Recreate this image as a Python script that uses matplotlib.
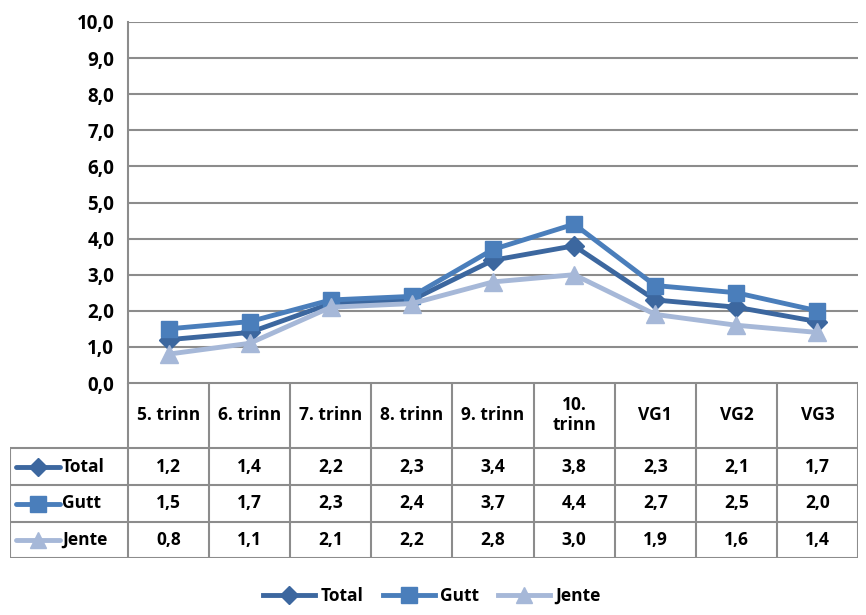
import matplotlib.pyplot as plt
from matplotlib.lines import Line2D

plt.rcParams['font.family'] = ['Open Sans', 'DejaVu Sans']
plt.rcParams['font.weight'] = 'bold'

categories = ["5. trinn", "6. trinn", "7. trinn", "8. trinn", "9. trinn",
              "10.\ntrinn", "VG1", "VG2", "VG3"]
total = [1.2, 1.4, 2.2, 2.3, 3.4, 3.8, 2.3, 2.1, 1.7]
gutt = [1.5, 1.7, 2.3, 2.4, 3.7, 4.4, 2.7, 2.5, 2.0]
jente = [0.8, 1.1, 2.1, 2.2, 2.8, 3.0, 1.9, 1.6, 1.4]
yticks = [0, 1, 2, 3, 4, 5, 6, 7, 8, 9, 10]

series = [
    ("Total", total, "#3C679F", "D", 10),
    ("Gutt", gutt, "#4A7EBB", "s", 12),
    ("Jente", jente, "#A6B8D8", "^", 13),
]

W, H = 866, 615
grid_c = "#8C8C8C"
fs = 12.5
fig = plt.figure(figsize=(W / 100, H / 100), dpi=100)

x0, x1, ytop, ybot, tbot = 128, 858, 22, 383, 558
ax = fig.add_axes([x0 / W, 1 - ybot / H, (x1 - x0) / W, (ybot - ytop) / H])
xs = list(range(len(categories)))
for name, vals, col, mk, ms in series:
    ax.plot(xs, vals, color=col, lw=3.5, marker=mk, ms=ms, label=name, zorder=3)
ax.set_xlim(-0.5, len(categories) - 0.5)
ax.set_ylim(0, 10)
ax.set_yticks(yticks)
ax.set_yticklabels([f"{v:.1f}".replace(".", ",") for v in yticks], fontsize=13.5, fontweight='bold')
ax.set_xticks([])
ax.tick_params(axis='y', length=0, pad=10)
for s in ["top", "right", "bottom"]:
    ax.spines[s].set_visible(False)
ax.spines["left"].set_color(grid_c)
ax.spines["left"].set_linewidth(1.5)
ax.grid(axis='y', color=grid_c, lw=1.5)
ax.set_axisbelow(True)

# data table below the plot
colw = (x1 - x0) / len(categories)
left = -0.5 - (x0 - 10) / colw
tab = fig.add_axes([10 / W, 1 - tbot / H, (x1 - 10) / W, (tbot - ybot) / H])
tab.set_xlim(left, len(categories) - 0.5)
tab.set_ylim(tbot - ybot, 0)
tab.axis("off")
rows = [0, 65, 102, 139, 175]
lk = dict(color=grid_c, lw=1.5, solid_capstyle='butt')
for i in range(len(categories) + 1):
    tab.plot([i - 0.5, i - 0.5], [0, 175], **lk)
tab.plot([left, left], [65, 175], **lk)
tab.plot([-0.5, len(categories) - 0.5], [0, 0], **lk)
for r in rows[1:]:
    tab.plot([left, len(categories) - 0.5], [r, r], **lk)
for i, c in enumerate(categories):
    tab.text(i, 32, c, ha='center', va='center', fontsize=fs, fontweight='bold', linespacing=1.2)
for k, (name, vals, col, mk, ms) in enumerate(series):
    yc = (rows[k + 1] + rows[k + 2]) / 2
    tab.plot([left + 0.07, left + 0.62], [yc, yc], color=col, lw=3.5, solid_capstyle='round')
    tab.plot([left + 0.345], [yc], color=col, marker=mk, ms=ms - 1)
    tab.text(left + 0.64, yc, name, ha='left', va='center', fontsize=fs, fontweight='bold')
    for i, v in enumerate(vals):
        tab.text(i, yc, f"{v:.1f}".replace(".", ","), ha='center', va='center',
                 fontsize=fs, fontweight='bold')

handles = [Line2D([], [], color=col, lw=3.5, marker=mk, ms=ms - 1) for _, _, col, mk, ms in series]
fig.legend(handles, [s[0] for s in series], loc='center', bbox_to_anchor=(432 / W, 1 - 596 / H),
           ncol=3, frameon=False, prop={'size': fs, 'weight': 'bold'},
           handlelength=3.0, handletextpad=0.3, columnspacing=1.1)

fig.savefig("out.png", dpi=100)
